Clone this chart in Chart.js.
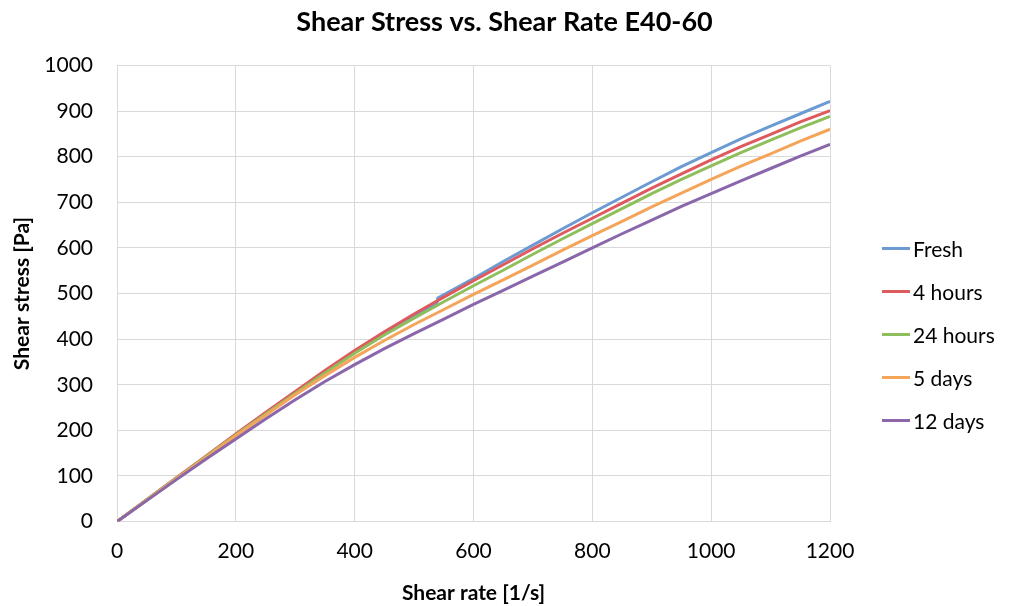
<!DOCTYPE html>
<html>
<head>
<meta charset="utf-8">
<script src="https://cdn.jsdelivr.net/npm/chart.js@4/dist/chart.umd.min.js"></script>
<style>
  html, body { margin: 0; padding: 0; background: #fff; }
  #wrap { position: relative; width: 1009px; height: 606px; }
  #legend { position: absolute; left: 882px; top: 227px; font-family: Lato, "Open Sans", sans-serif; font-size: 21px; color: #000; }
  #legend .item { height: 43px; display: flex; align-items: center; }
  #legend .swatch { width: 28px; height: 3px; margin-right: 3px; }
</style>
</head>
<body>
<div id="wrap">
  <canvas id="chart" width="1009" height="606"></canvas>
  <div id="legend"></div>
</div>
<script>
// --- DATA ---
const shearRate = [0, 50, 100, 150, 200, 250, 300, 350, 400, 450, 500, 550, 600, 650, 700, 750, 800, 850, 900, 950, 1000, 1050, 1100, 1150, 1200];
// Fresh tiene un pequeño salto cerca de 540 1/s
const freshRate = [0, 50, 100, 150, 200, 250, 300, 350, 400, 450, 500, 538, 540, 600, 650, 700, 750, 800, 850, 900, 950, 1000, 1050, 1100, 1150, 1200];
const fresh   = [0, 48, 95, 142, 190, 237, 283, 329, 372, 413, 452, 477, 490, 533, 570, 606, 642, 677, 711, 745, 778, 809, 839, 867, 894, 921];
const hours4  = [0, 48, 96, 144, 192, 239, 285, 331, 375, 416, 455, 492, 528, 563, 598, 632, 665, 698, 731, 762, 793, 822, 849, 876, 901];
const hours24 = [0, 48, 95, 143, 190, 236, 281, 326, 369, 409, 446, 482, 517, 551, 586, 620, 653, 686, 719, 750, 780, 809, 836, 863, 888];
const days5   = [0, 47, 94, 141, 188, 233, 278, 320, 360, 397, 432, 465, 498, 530, 562, 595, 627, 658, 690, 720, 750, 779, 806, 834, 860];
const days12  = [0, 46, 92, 137, 181, 225, 267, 307, 344, 379, 412, 444, 476, 507, 538, 569, 600, 631, 661, 691, 719, 747, 774, 801, 827];

const seriesNames = ['Fresh', '4 hours', '24 hours', '5 days', '12 days'];
const seriesColors = ['#6b9bd2', '#df5a5f', '#8fbe5c', '#f5a55a', '#8a67ab'];

const xTicks = [0, 200, 400, 600, 800, 1000, 1200];
const yTicks = [0, 100, 200, 300, 400, 500, 600, 700, 800, 900, 1000];

function toPoints(xs, ys) {
    return ys.map((y, i) => ({ x: xs[i], y: y }));
}

const seriesData = [
    toPoints(freshRate, fresh),
    toPoints(shearRate, hours4),
    toPoints(shearRate, hours24),
    toPoints(shearRate, days5),
    toPoints(shearRate, days12)
];

const FONT = 'Lato, "Open Sans", sans-serif';
Chart.defaults.font.family = FONT;
Chart.defaults.color = '#000';

const datasets = seriesNames.map((name, i) => ({
    label: name,
    data: seriesData[i],
    borderColor: seriesColors[i],
    backgroundColor: seriesColors[i],
    borderWidth: 3,
    pointRadius: 0,
    tension: 0,
    // Excel dibuja la última serie encima
    order: seriesNames.length - i
}));

// Centrar el título sobre todo el lienzo (no sólo sobre el área con padding)
const centerTitle = {
    id: 'centerTitle',
    afterLayout(chart) {
        const t = chart.titleBlock;
        if (!t) return;
        t.left = 0;
        t.right = chart.width;
        t.width = chart.width;
    }
};

const chart = new Chart(document.getElementById('chart'), {
    type: 'line',
    data: { datasets: datasets },
    plugins: [centerTitle],
    options: {
        responsive: false,
        animation: false,
        layout: { padding: { left: 10, right: 179, top: 2, bottom: 0 } },
        plugins: {
            legend: { display: false },
            tooltip: { enabled: false },
            title: {
                display: true,
                text: 'Shear Stress vs. Shear Rate E40-60',
                font: { size: 27, weight: 'bold' },
                padding: { top: 4, bottom: 27 }
            }
        },
        scales: {
            x: {
                type: 'linear',
                min: 0,
                max: 1200,
                afterBuildTicks: axis => { axis.ticks = xTicks.map(v => ({ value: v })); },
                grid: { color: '#d9d9d9', drawTicks: false },
                border: { color: '#d9d9d9' },
                ticks: { font: { size: 21 }, padding: 17, maxRotation: 0, callback: v => String(v) },
                title: { display: true, text: 'Shear rate [1/s]', font: { size: 21, weight: 'bold' }, padding: { top: 0, bottom: 0 } }
            },
            y: {
                min: 0,
                max: 1000,
                afterBuildTicks: axis => { axis.ticks = yTicks.map(v => ({ value: v })); },
                afterFit: axis => { axis.width = 107; },
                grid: { color: '#d9d9d9', drawTicks: false },
                border: { color: '#d9d9d9' },
                ticks: { font: { size: 21 }, padding: 24, callback: v => String(v) },
                title: { display: true, text: 'Shear stress [Pa]', font: { size: 21, weight: 'bold' }, padding: { top: 0, bottom: 11 } }
            }
        }
    }
});

// Leyenda HTML a la derecha
const legendEl = document.getElementById('legend');
seriesNames.forEach((name, i) => {
    const item = document.createElement('div');
    item.className = 'item';
    item.innerHTML = `<span class="swatch" style="background:${seriesColors[i]}"></span><span>${name}</span>`;
    legendEl.appendChild(item);
});
</script>
</body>
</html>
